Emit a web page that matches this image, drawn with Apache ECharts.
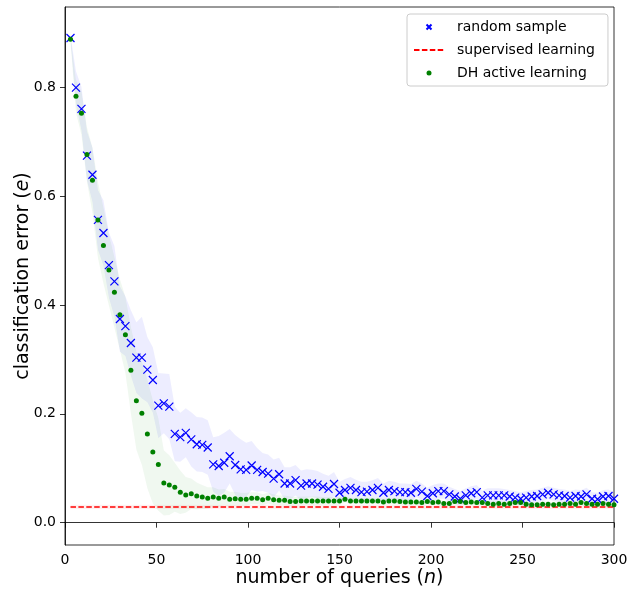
<!DOCTYPE html>
<html><head><meta charset="utf-8">
<script src="https://cdn.jsdelivr.net/npm/echarts@6/dist/echarts.min.js"></script>
<style>html,body{margin:0;padding:0;background:#fff}#c{width:630px;height:590px}</style>
</head><body><div id="c"></div>
<script>
// number of queries (x values)
const queries = [3,6,9,12,15,18,21,24,27,30,33,36,39,42,45,48,51,54,57,60,
63,66,69,72,75,78,81,84,87,90,93,96,99,102,105,108,111,114,117,120,
123,126,129,132,135,138,141,144,147,150,153,156,159,162,165,168,171,174,177,180,
183,186,189,192,195,198,201,204,207,210,213,216,219,222,225,228,231,234,237,240,
243,246,249,252,255,258,261,264,267,270,273,276,279,282,285,288,291,294,297,300];

// random sample: mean error
const randomMean = [0.890,0.799,0.760,0.674,0.639,0.556,0.532,0.473,0.443,0.374,
0.361,0.330,0.303,0.303,0.281,0.262,0.215,0.219,0.213,0.163,
0.157,0.165,0.153,0.144,0.143,0.138,0.107,0.104,0.110,0.122,
0.106,0.098,0.097,0.105,0.097,0.093,0.090,0.081,0.089,0.072,
0.072,0.078,0.068,0.072,0.072,0.070,0.066,0.062,0.071,0.055,
0.060,0.064,0.060,0.056,0.057,0.060,0.064,0.055,0.060,0.058,
0.056,0.056,0.055,0.062,0.057,0.049,0.054,0.058,0.058,0.052,
0.048,0.044,0.050,0.054,0.056,0.046,0.050,0.050,0.050,0.050,
0.048,0.046,0.044,0.046,0.048,0.049,0.052,0.055,0.052,0.050,
0.049,0.046,0.049,0.048,0.052,0.044,0.043,0.048,0.049,0.044];
// random sample: band half-width
const randomSpread = [0.005,0.03,0.04,0.045,0.05,0.055,0.06,0.06,0.065,0.06,
0.055,0.06,0.065,0.075,0.06,0.06,0.06,0.055,0.06,0.05,
0.045,0.045,0.05,0.05,0.05,0.05,0.05,0.055,0.055,0.05,
0.055,0.055,0.05,0.045,0.04,0.035,0.035,0.035,0.03,0.03,
0.03,0.028,0.028,0.026,0.025,0.025,0.024,0.024,0.022,0.02,
0.02,0.02,0.019,0.019,0.018,0.018,0.018,0.017,0.017,0.017,
0.016,0.016,0.016,0.015,0.015,0.015,0.015,0.014,0.014,0.014,
0.014,0.014,0.013,0.013,0.013,0.013,0.013,0.013,0.013,0.012,
0.012,0.012,0.012,0.012,0.012,0.012,0.012,0.012,0.012,0.012,
0.012,0.012,0.012,0.012,0.012,0.012,0.012,0.012,0.012,0.012];

// DH active learning: mean error
const dhMean = [0.888,0.783,0.752,0.676,0.629,0.556,0.509,0.464,0.423,0.382,
0.345,0.280,0.224,0.201,0.163,0.130,0.107,0.073,0.069,0.065,
0.056,0.051,0.053,0.049,0.047,0.045,0.047,0.045,0.047,0.043,
0.044,0.043,0.043,0.045,0.045,0.042,0.045,0.042,0.041,0.041,
0.039,0.039,0.040,0.040,0.040,0.040,0.040,0.040,0.040,0.040,
0.043,0.040,0.040,0.040,0.040,0.040,0.040,0.038,0.040,0.040,
0.039,0.038,0.038,0.038,0.037,0.039,0.037,0.038,0.035,0.035,
0.039,0.039,0.037,0.038,0.037,0.037,0.035,0.034,0.035,0.034,
0.035,0.037,0.037,0.034,0.033,0.033,0.034,0.034,0.033,0.034,
0.034,0.035,0.034,0.037,0.035,0.034,0.034,0.035,0.034,0.033];
// DH active learning: band half-width
const dhSpread = [0.005,0.03,0.04,0.05,0.06,0.07,0.07,0.065,0.065,0.065,
0.07,0.08,0.09,0.095,0.1,0.095,0.085,0.06,0.055,0.045,
0.04,0.033,0.028,0.025,0.022,0.02,0.018,0.016,0.015,0.014,
0.013,0.012,0.012,0.011,0.011,0.01,0.01,0.01,0.009,0.009,
0.009,0.008,0.008,0.008,0.008,0.008,0.007,0.007,0.007,0.007,
0.006,0.006,0.006,0.006,0.006,0.006,0.006,0.006,0.006,0.006,
0.006,0.006,0.006,0.006,0.006,0.005,0.005,0.005,0.005,0.005,
0.005,0.005,0.005,0.005,0.005,0.005,0.005,0.005,0.005,0.005,
0.005,0.005,0.005,0.005,0.005,0.005,0.005,0.005,0.005,0.005,
0.005,0.005,0.005,0.005,0.005,0.005,0.005,0.005,0.005,0.005];

// supervised learning baseline
const supervisedX = [3, 300];
const supervisedErr = [0.029, 0.029];
const supervisedSpread = [0.004, 0.004];

const yTicks = [0.0, 0.2, 0.4, 0.6, 0.8];
const xTicks = [0, 50, 100, 150, 200, 250, 300];

const FONT = 'DejaVu Sans';
const pairs = (xs, ys) => xs.map((x, i) => [x, ys[i]]);
const bandData = (xs, m, s) => xs.map((x, i) => [x, m[i] - s[i], m[i] + s[i]]);

// band polygon built from the data through the axis scales
function bandSeries(name, data, color) {
  return {
    name: name, type: 'custom', silent: true, z: 1,
    encode: { x: 0, y: [1, 2] },
    data: data,
    renderItem: function (params, api) {
      if (params.dataIndex !== 0) return null;
      const upper = data.map(d => api.coord([d[0], d[2]]));
      const lower = data.map(d => api.coord([d[0], d[1]])).reverse();
      return {
        type: 'polygon',
        shape: { points: upper.concat(lower) },
        style: { fill: color, stroke: null }
      };
    }
  };
}

const crossPath = 'path://M0,0L10,10M10,0L0,10';

const option = {
  animation: false,
  grid: { left: 65, right: 16, top: 7, bottom: 45, show: true, borderColor: '#000', borderWidth: 0.8, outerBoundsMode: 'none' },
  xAxis: {
    type: 'value', min: xTicks[0], max: xTicks[xTicks.length - 1], interval: 50,
    name: 'number of queries ({i|n})', nameLocation: 'middle', nameGap: 24, nameMoveOverlap: false,
    nameTextStyle: { fontFamily: FONT, fontSize: 19, color: '#000', rich: { i: { fontFamily: FONT, fontSize: 19, fontStyle: 'italic', color: '#000' } } },
    axisLine: { show: true, lineStyle: { color: '#000', width: 0.8 } },
    axisTick: { show: true, length: 5, lineStyle: { color: '#000', width: 0.8 } },
    axisLabel: { fontFamily: FONT, fontSize: 14, color: '#000', margin: 8 },
    splitLine: { show: false }
  },
  yAxis: {
    type: 'value', min: -0.041, max: 0.947,
    name: 'classification error ({i|e})', nameLocation: 'middle', nameGap: 32, nameRotate: 90, nameMoveOverlap: false,
    nameTextStyle: { fontFamily: FONT, fontSize: 19, color: '#000', rich: { i: { fontFamily: FONT, fontSize: 19, fontStyle: 'italic', color: '#000' } } },
    axisLine: { show: true, lineStyle: { color: '#000', width: 0.8 } },
    axisTick: { show: true, length: 5, customValues: yTicks, lineStyle: { color: '#000', width: 0.8 } },
    axisLabel: { fontFamily: FONT, fontSize: 14, color: '#000', margin: 9, customValues: yTicks, formatter: v => v.toFixed(1) },
    splitLine: { show: false }
  },
  legend: {
    data: [
      { name: 'random sample' },
      { name: 'supervised learning', itemStyle: { opacity: 0 } },
      { name: 'DH active learning' }
    ],
    orient: 'vertical', left: 407, top: 14,
    itemWidth: 30, itemHeight: 5, itemGap: 9,
    padding: [6, 13, 6, 6],
    borderColor: '#ccc', borderWidth: 1, borderRadius: 3,
    backgroundColor: 'rgba(255,255,255,0.8)',
    textStyle: { fontFamily: FONT, fontSize: 14, color: '#000', padding: [0, 0, 0, 8] }
  },
  series: [
    bandSeries('random band', bandData(queries, randomMean, randomSpread), 'rgba(0,0,255,0.07)'),
    bandSeries('supervised band', bandData(supervisedX, supervisedErr, supervisedSpread), 'rgba(255,0,0,0.06)'),
    bandSeries('DH band', bandData(queries, dhMean, dhSpread), 'rgba(0,128,0,0.06)'),
    {
      name: 'random sample', type: 'scatter', symbol: crossPath, symbolSize: 8,
      itemStyle: { color: 'blue', borderColor: 'blue', borderWidth: 1.2, opacity: 1 },
      data: pairs(queries, randomMean), z: 3
    },
    {
      name: 'supervised learning', type: 'line', symbol: 'none',
      lineStyle: { color: 'red', width: 1.5, type: [5.5, 2.4] },
      itemStyle: { color: 'red' },
      data: pairs(supervisedX, supervisedErr), z: 4
    },
    {
      name: 'DH active learning', type: 'scatter', symbol: 'circle', symbolSize: 5,
      itemStyle: { color: 'green', opacity: 1 },
      data: pairs(queries, dhMean), z: 5
    }
  ]
};
const chart = echarts.init(document.getElementById('c'), null, { renderer: 'canvas' });
chart.setOption(option);
</script>
</body></html>
